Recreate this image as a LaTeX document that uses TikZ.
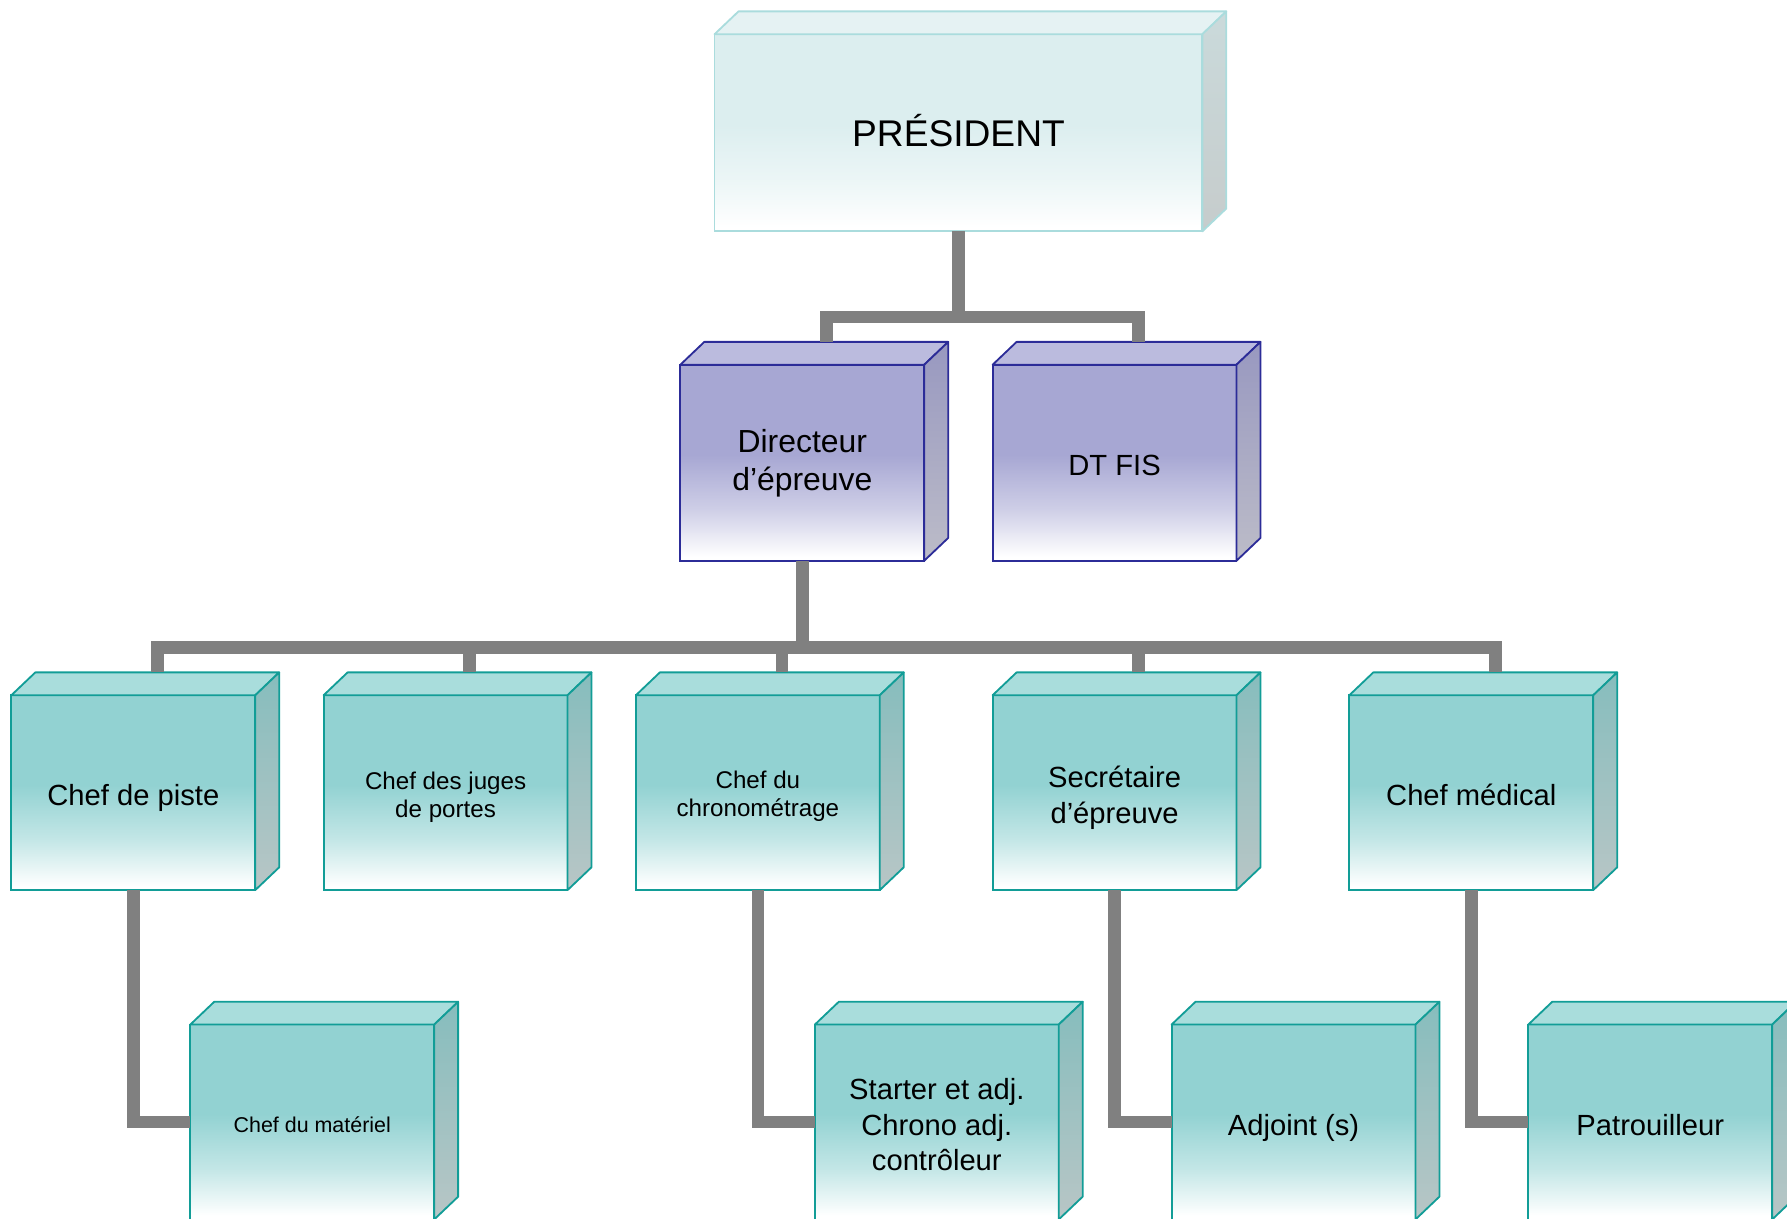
\documentclass[tikz,border=0pt]{standalone}
\usepackage{fontspec}
\setmainfont{Liberation Sans}
\definecolor{tealF}{HTML}{92D2D2}
\colorlet{tealM}{tealF!55!white}
\definecolor{tealD}{HTML}{129D97}
\definecolor{tealT}{HTML}{A9DDDC}
\definecolor{tealS1}{HTML}{86BDBD}
\definecolor{tealS2}{HTML}{B8C6C6}
\definecolor{purF}{HTML}{A7A7D3}
\colorlet{purM}{purF!55!white}
\definecolor{purD}{HTML}{2C2C98}
\definecolor{purT}{HTML}{BBBBDE}
\definecolor{purS1}{HTML}{9898C0}
\definecolor{purS2}{HTML}{BCBCC8}
\definecolor{preF}{HTML}{DCEEEF}
\colorlet{preM}{preF!55!white}
\definecolor{preD}{HTML}{AADCDD}
\definecolor{preT}{HTML}{E5F2F3}
\definecolor{preS1}{HTML}{CADADB}
\definecolor{preS2}{HTML}{C6CCCC}
\definecolor{connG}{HTML}{808080}
\pgfdeclareverticalshading{tealfront}{100bp}{color(0bp)=(white); color(26bp)=(white); color(38bp)=(tealM); color(52bp)=(tealF); color(100bp)=(tealF)}
\pgfdeclareverticalshading{purfront}{100bp}{color(0bp)=(white); color(26bp)=(white); color(38bp)=(purM); color(52bp)=(purF); color(100bp)=(purF)}
\pgfdeclareverticalshading{prefront}{100bp}{color(0bp)=(white); color(26bp)=(white); color(38bp)=(preM); color(52bp)=(preF); color(100bp)=(preF)}
\newcommand\boxfaces[5]{%
  \filldraw[draw=#5, fill=#2, line width=0.8pt, line join=round]
    (#1.north west) -- ++(21,-20) -- ([shift={(21,-20)}]#1.north east) -- (#1.north east) -- cycle;
  \shade[top color=#3, bottom color=#4]
    (#1.north east) -- ++(21,-20) -- ([shift={(21,-20)}]#1.south east) -- (#1.south east) -- cycle;
  \draw[draw=#5, line width=0.8pt, line join=round]
    (#1.north east) -- ++(21,-20) -- ([shift={(21,-20)}]#1.south east) -- (#1.south east) -- cycle;
  \coordinate (#1-top) at ([shift={(21,-20)}]#1.north);
}
\newcommand\lbl[2][2.5pt]{\raisebox{-#1}[\height][\depth]{\begin{tabular}{@{}c@{}}#2\end{tabular}}}
\begin{document}
\begin{tikzpicture}[x=0.5pt,y=-0.5pt,
  box/.style={rectangle, minimum width=107pt, minimum height=86pt, inner sep=0pt, outer sep=0pt, line width=0.8pt, align=center, shade},
  tealbox/.style={box, draw=tealD, shading=tealfront},
  purbox/.style={box, draw=purD, shading=purfront},
  presbox/.style={box, draw=preD, shading=prefront},
  fbig/.style={font=\fontsize{12.8}{16}\selectfont},
  fsmall/.style={font=\fontsize{10.6}{12.2}\selectfont},
  conn/.style={draw=connG, line width=5.5pt, line join=miter}]
\clip (0,0) rectangle (1568,1069);
\useasboundingbox (0,0) rectangle (1568,1069);
% top
\node[presbox, minimum width=214pt, minimum height=86.5pt, font=\fontsize{16.3}{19}\selectfont] (pres) at (841,116.5) {\lbl[2pt]{PRÉSIDENT}};
\boxfaces{pres}{preT}{preS1}{preS2}{preD}
\node[purbox, font=\fontsize{14}{16.5}\selectfont] (dir) at (704,406) {\lbl[0.5pt]{Directeur\\d’épreuve}};
\boxfaces{dir}{purT}{purS1}{purS2}{purD}
\node[purbox, font=\fontsize{12.8}{16}\selectfont] (dt) at (978,406) {\lbl{DT FIS}};
\boxfaces{dt}{purT}{purS1}{purS2}{purD}
% row 2
\node[tealbox, fbig, minimum height=85.5pt] (cp) at (117,695.5) {\lbl{Chef de piste}};
\boxfaces{cp}{tealT}{tealS1}{tealS2}{tealD}
\node[tealbox, fsmall, minimum height=85.5pt] (cj) at (391,695.5) {\lbl[2.2pt]{Chef des juges\\de portes}};
\boxfaces{cj}{tealT}{tealS1}{tealS2}{tealD}
\node[tealbox, fsmall, minimum height=85.5pt] (cc) at (665,695.5) {\lbl[2pt]{Chef du\\chronométrage}};
\boxfaces{cc}{tealT}{tealS1}{tealS2}{tealD}
\node[tealbox, fbig, minimum height=85.5pt] (se) at (978,695.5) {\lbl{Secrétaire\\d’épreuve}};
\boxfaces{se}{tealT}{tealS1}{tealS2}{tealD}
\node[tealbox, fbig, minimum height=85.5pt] (cm) at (1291,695.5) {\lbl{Chef médical}};
\boxfaces{cm}{tealT}{tealS1}{tealS2}{tealD}
% row 3
\node[tealbox, font=\fontsize{9.4}{12}\selectfont, minimum height=85.5pt] (mat) at (274,984.5) {\lbl[2pt]{Chef du matériel}};
\boxfaces{mat}{tealT}{tealS1}{tealS2}{tealD}
\node[tealbox, font=\fontsize{12.8}{15.5}\selectfont, minimum height=85.5pt] (st) at (822,984.5) {\lbl[2.7pt]{Starter et adj.\\Chrono adj.\\contrôleur}};
\boxfaces{st}{tealT}{tealS1}{tealS2}{tealD}
\node[tealbox, fbig, minimum height=85.5pt] (adj) at (1135,984.5) {\lbl{Adjoint (s)}};
\boxfaces{adj}{tealT}{tealS1}{tealS2}{tealD}
\node[tealbox, fbig, minimum height=85.5pt] (pat) at (1448,984.5) {\lbl{Patrouilleur}};
\boxfaces{pat}{tealT}{tealS1}{tealS2}{tealD}
% connectors
\coordinate (j1) at (841,278);
\draw[conn] (pres.south) -- (j1);
\draw[conn] (dir-top) |- (j1) -| (dt-top);
\coordinate (j2) at (704,568);
\draw[conn] (dir.south) -- (j2);
\draw[conn] (cp-top) |- (j2) -| (cm-top);
\draw[conn] (cj-top) -- (cj-top |- j2);
\draw[conn] (cc-top) -- (cc-top |- j2);
\draw[conn] (se-top) -- (se-top |- j2);
\draw[conn] (cp.south) |- (mat.west);
\draw[conn] (cc.south) |- (st.west);
\draw[conn] (se.south) |- (adj.west);
\draw[conn] (cm.south) |- (pat.west);
\end{tikzpicture}
\end{document}
